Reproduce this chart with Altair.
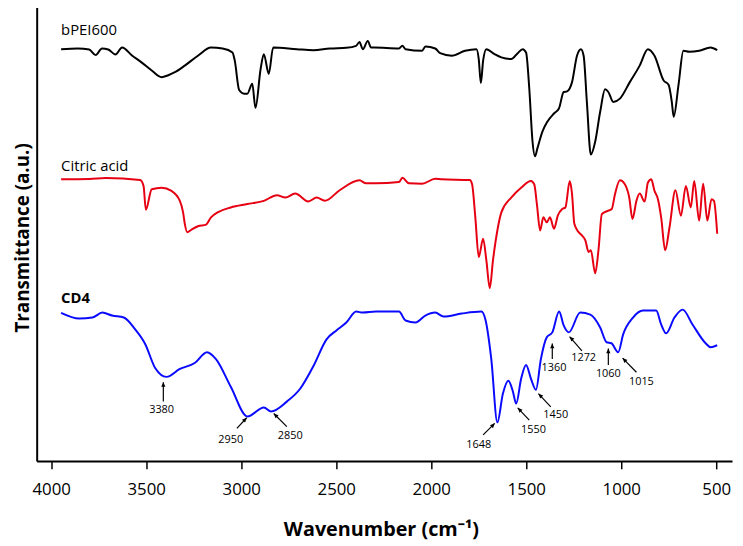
import altair as alt
import pandas as pd

# ---------------- data ----------------
bpei_wn = [3948, 3860, 3800, 3766, 3733, 3700, 3662, 3627, 3575, 3525,
           3471, 3419, 3384, 3349, 3297, 3228, 3159, 3098, 3046, 3034,
           3011, 2985, 2968, 2942, 2925, 2898, 2881, 2855, 2832, 2707,
           2621, 2534, 2447, 2395, 2378, 2360, 2334, 2317, 2300, 2170,
           2152, 2135, 2048, 2031, 1979, 1953, 1892, 1822, 1762, 1750,
           1739, 1727, 1710, 1667, 1631, 1579, 1545, 1519, 1501, 1484,
           1467, 1454, 1441, 1415, 1389, 1354, 1328, 1303, 1285, 1259,
           1233, 1212, 1198, 1181, 1160, 1137, 1111, 1085, 1068, 1042,
           1007, 955, 903, 860, 825, 777, 751, 734, 724, 699,
           673, 642, 590, 530, 495]
bpei_t = [416.3, 417, 416, 410.3, 417, 416, 411, 418, 410, 403,
          394.7, 388, 390, 393, 399.7, 409.7, 418, 417, 413, 404.7,
          375, 371.3, 371.3, 381.3, 357, 396.3, 411.3, 391.3, 418, 416.3,
          415.3, 417, 417.7, 419.7, 423.7, 416.3, 424.7, 418, 418, 417,
          419.7, 416.3, 414.7, 419, 417, 412.3, 409.7, 414.7, 416.3, 406.3,
          382, 404.7, 416.3, 411.3, 408, 406.3, 412.3, 416.3, 413, 376.3,
          323, 308, 316.3, 333, 343, 351.3, 356.3, 373, 373.7, 383,
          409.7, 416.3, 409.7, 363, 309.7, 323, 353, 375.7, 373, 363,
          366.3, 383, 399.7, 416.3, 409.7, 384.7, 380.3, 363, 348, 379.7,
          414.7, 413.7, 414.7, 418, 415.3]

citric_wn = [3948, 3800, 3714, 3532, 3514, 3502, 3471, 3419, 3367, 3323,
             3306, 3297, 3284, 3263, 3228, 3185, 3159, 3124, 3055, 2968,
             2881, 2812, 2768, 2716, 2647, 2603, 2560, 2482, 2378, 2343,
             2291, 2170, 2152, 2117, 2048, 1979, 1944, 1797, 1785, 1768,
             1750, 1727, 1710, 1692, 1675, 1649, 1631, 1579, 1527, 1475,
             1458, 1444, 1427, 1410, 1392, 1375, 1354, 1334, 1311, 1294,
             1271, 1259, 1247, 1224, 1207, 1189, 1172, 1160, 1137, 1120,
             1102, 1068, 1050, 1033, 1007, 981, 958, 941, 920, 903,
             877, 860, 842, 825, 807, 790, 769, 746, 715, 686,
             660, 634, 616, 590, 569, 547, 525, 512, 495]
citric_t = [284.7, 285, 286, 284, 278, 254, 274.7, 276.3, 273, 263,
            251.3, 239.7, 231.3, 233.7, 237.3, 239, 246.3, 251.3, 256.3, 259.7,
            263, 268.7, 266.3, 270.3, 262.3, 266.3, 263, 273.7, 283.7, 280.7,
            280.7, 282, 286.3, 280.7, 280.3, 285.3, 284.7, 284, 279.7, 246.3,
            206.3, 224.7, 203, 174.7, 203, 236.3, 251.3, 266.3, 276.3, 283,
            279.7, 259.7, 233, 246.3, 241.3, 246.3, 234.7, 248, 254.7, 256.3,
            283, 269.7, 239.7, 231.3, 228, 223, 211.3, 213, 189.7, 213,
            249.7, 253, 254.7, 269.7, 283.7, 279.7, 266.3, 244.7, 263, 270.3,
            262.3, 281.3, 284.7, 273, 264.7, 246.3, 213, 236.3, 273.7, 248,
            278, 256.3, 283, 243, 280.3, 243, 264.7, 263, 229.7]

cd4_wn = [3948, 3853, 3783, 3731, 3679, 3618, 3558, 3505, 3453, 3393,
          3323, 3245, 3180, 3133, 3055, 2968, 2881, 2843, 2760, 2690,
          2620, 2551, 2499, 2447, 2395, 2360, 2291, 2170, 2135, 2083,
          2031, 1979, 1935, 1840, 1736, 1715, 1684, 1652, 1623, 1594,
          1570, 1553, 1527, 1501, 1475, 1449, 1423, 1392, 1363, 1327,
          1303, 1276, 1216, 1163, 1111, 1077, 1052, 1016, 990, 938,
          886, 816, 790, 764, 720, 677, 625, 556, 530, 495]
cd4_t = [149.7, 144, 145, 150, 147, 145, 133, 118, 94, 85,
         93, 99, 110, 103, 75, 45, 54, 50, 60, 73,
         96, 123, 132, 140, 151, 150, 151, 151, 142, 140,
         147, 150, 146, 149, 151, 143, 103, 39, 68, 81,
         70, 58, 83, 97, 83, 72, 103, 125, 130, 151,
         137, 130, 150, 148, 135, 120, 119, 110, 128, 145,
         152, 152, 138, 129, 145, 153, 138, 119, 115, 117]

series_names = ["bPEI600", "Citric acid", "CD4"]
series_colors = ["#000000", "#e60012", "#0a0aff"]
label_wn = [3948, 3948, 3948]
label_t = [436, 298, 164.7]

# peak annotations on CD4
peak_text = ["3380", "2950", "2850", "1648", "1550", "1450", "1360", "1272", "1060", "1015"]
tail_wn = [3410, 3023, 2760, 1727, 1484, 1371, 1363, 1207, 1068, 920]
tail_t = [60, 33, 34.7, 26.3, 41.3, 54.7, 103, 111.3, 97, 89.7]
head_wn = [3410, 2971, 2829, 1666, 1545, 1436, 1363, 1272, 1068, 993]
head_t = [79.7, 43.7, 48, 38, 53.7, 68, 118.7, 125.7, 113.7, 104]
text_wn = [3419, 3055, 2742, 1750, 1462, 1345, 1354, 1198, 1068, 894]
text_t = [51.3, 20.7, 25.7, 16.3, 31.3, 46.3, 93.7, 103.7, 88, 79.7]
head_angle = [0, 43, 315, 43, 315, 315, 0, 315, 0, 315]

x_ticks = [4000, 3500, 3000, 2500, 2000, 1500, 1000, 500]

# ---------------- tables ----------------
frames = []
for name, wn, t in zip(series_names, [bpei_wn, citric_wn, cd4_wn], [bpei_t, citric_t, cd4_t]):
    frames.append(pd.DataFrame({"wn": wn, "t": t, "sample": name, "idx": range(len(wn))}))
spectra = pd.concat(frames, ignore_index=True)

labels = pd.DataFrame({"wn": label_wn, "t": label_t, "name": series_names})
arrows = pd.DataFrame({"text": peak_text, "tail_wn": tail_wn, "tail_t": tail_t,
                       "head_wn": head_wn, "head_t": head_t,
                       "text_wn": text_wn, "text_t": text_t, "angle": head_angle})

FONT = "Open Sans"
x_scale = alt.Scale(domain=[417, 4076.5], reverse=True, nice=False, zero=False)
y_scale = alt.Scale(domain=[0, 460], nice=False, zero=False)

x_axis = alt.Axis(values=x_ticks, format="d", title="Wavenumber (cm⁻¹)", grid=False,
                  tickSize=8, tickWidth=1.5, tickColor="black",
                  domainColor="black", domainWidth=2,
                  labelFont=FONT, labelFontSize=17, labelColor="black",
                  labelBaseline="alphabetic", labelPadding=26, labelFlush=False,
                  titleFont=FONT, titleFontSize=20, titleFontWeight="bold", titleColor="black",
                  titleBaseline="alphabetic", titleX=348, titleY=75)
y_axis = alt.Axis(title="Transmittance (a.u.)", grid=False, ticks=False, labels=False,
                  domainColor="black", domainWidth=2,
                  titleFont=FONT, titleFontSize=19, titleFontWeight="bold", titleColor="black",
                  titleBaseline="alphabetic", titleX=-8, titleY=234, titleAngle=270)

lines = alt.Chart(spectra).mark_line(strokeWidth=2, interpolate="monotone").encode(
    x=alt.X("wn:Q", scale=x_scale, axis=x_axis),
    y=alt.Y("t:Q", scale=y_scale, axis=y_axis),
    color=alt.Color("sample:N", scale=alt.Scale(domain=series_names, range=series_colors), legend=None),
    detail="sample:N",
    order="idx:Q",
)

name_regular = alt.Chart(labels).transform_filter(alt.datum.name != "CD4").mark_text(
    font=FONT, fontSize=15, align="left", baseline="middle", color="black"
).encode(x=alt.X("wn:Q", scale=x_scale), y=alt.Y("t:Q", scale=y_scale), text="name:N")

name_bold = alt.Chart(labels).transform_filter(alt.datum.name == "CD4").mark_text(
    font=FONT, fontSize=15, fontWeight="bold", align="left", baseline="middle", color="black"
).encode(x=alt.X("wn:Q", scale=x_scale), y=alt.Y("t:Q", scale=y_scale), text="name:N")

arrow_lines = alt.Chart(arrows).mark_rule(color="black", strokeWidth=1.2).encode(
    x=alt.X("tail_wn:Q", scale=x_scale), y=alt.Y("tail_t:Q", scale=y_scale),
    x2="head_wn:Q", y2="head_t:Q",
)
arrow_heads = alt.Chart(arrows).mark_point(
    shape="M0,0 L-0.45,1 L0.45,1 Z", filled=True, color="black", opacity=1, size=90, strokeWidth=0
).encode(
    x=alt.X("head_wn:Q", scale=x_scale), y=alt.Y("head_t:Q", scale=y_scale),
    angle=alt.Angle("angle:Q", scale=None),
)
arrow_text = alt.Chart(arrows).mark_text(
    font=FONT, fontSize=11, align="center", baseline="middle", color="black"
).encode(x=alt.X("text_wn:Q", scale=x_scale), y=alt.Y("text_t:Q", scale=y_scale), text="text:N")

chart = alt.layer(lines, name_regular, name_bold, arrow_lines, arrow_heads, arrow_text).properties(
    width=703, height=460,
    padding={"left": 29, "top": -5, "right": 3, "bottom": 80},
    autosize=alt.AutoSizeParams(type="none"),
    background="white",
).configure_view(stroke=None)

chart.save("out.html", embed_options={"renderer": "svg", "actions": False})
